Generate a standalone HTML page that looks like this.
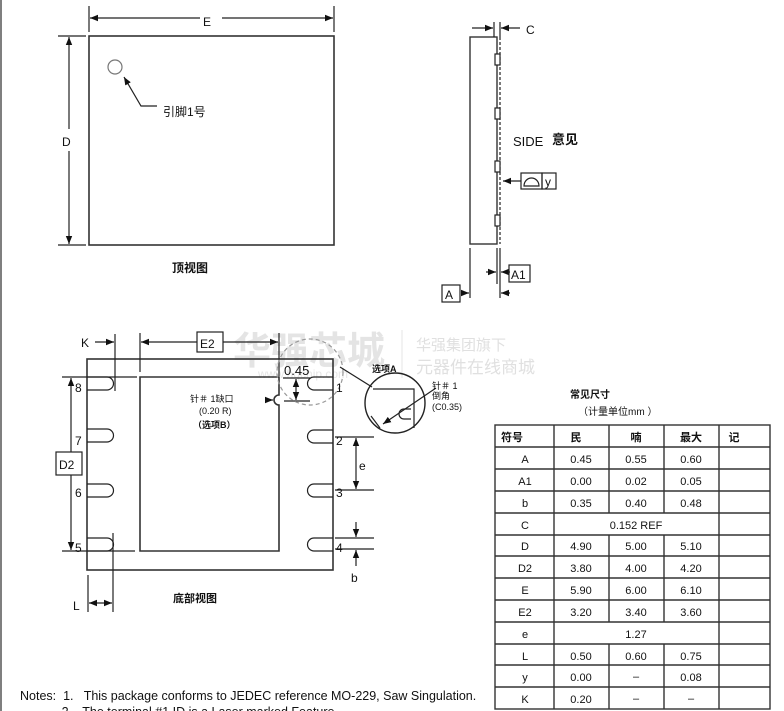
<!DOCTYPE html>
<html><head><meta charset="utf-8"><style>
html,body{margin:0;padding:0;background:#fff;width:784px;height:711px;overflow:hidden}
svg{display:block}
text{font-family:"Liberation Sans","Noto Sans CJK SC",sans-serif;fill:#111}
</style></head><body>
<svg width="784" height="711" viewBox="0 0 784 711" xmlns="http://www.w3.org/2000/svg">
<defs>
<marker id="ar" viewBox="0 0 10 10" refX="10" refY="5" markerWidth="8" markerHeight="8" orient="auto-start-reverse" markerUnits="userSpaceOnUse"><path d="M0,1 L10,5 L0,9 z" fill="#111"/></marker>
</defs>
<line x1="1" y1="0" x2="1" y2="711" stroke="#555" stroke-width="1.5"/>
<!-- watermark -->
<g>
<text x="233" y="364" font-size="38" font-weight="bold" style="fill:#e4e4e4">华强芯城</text>
<text x="258" y="378" font-size="12" style="fill:#e6e6e6">www.hqchip.com</text>
<text x="416" y="350" font-size="15" style="fill:#e0e0e0">华强集团旗下</text>
<text x="416" y="373" font-size="17" style="fill:#e0e0e0">元器件在线商城</text>
</g>
<line x1="402" y1="330" x2="402" y2="378" stroke="#e5e5e5"/>
<g stroke="#222" stroke-width="1.2" fill="none">
<!-- top view -->
<rect x="89" y="36" width="245" height="209" stroke="#333" stroke-width="1.6"/>
<line x1="89" y1="6" x2="89" y2="32"/><line x1="334" y1="6" x2="334" y2="32"/>
<line x1="90" y1="18" x2="200" y2="18" marker-start="url(#ar)"/>
<line x1="222" y1="18" x2="333" y2="18" marker-end="url(#ar)"/>
<line x1="58" y1="36" x2="86" y2="36"/><line x1="58" y1="245" x2="86" y2="245"/>
<line x1="69" y1="37" x2="69" y2="129" marker-start="url(#ar)"/>
<line x1="69" y1="151" x2="69" y2="244" marker-end="url(#ar)"/>
<circle cx="115" cy="67" r="7" stroke="#777"/>
<polyline points="157,106 141,106 124,77" marker-end="url(#ar)"/>
<!-- side view -->
<rect x="470" y="37" width="27" height="207" stroke="#333" stroke-width="1.4"/>
<line x1="500" y1="37" x2="500" y2="244" stroke-dasharray="3,2"/>
<rect x="495" y="54" width="5" height="11" fill="#fff"/>
<rect x="495" y="108" width="5" height="11" fill="#fff"/>
<rect x="495" y="161" width="5" height="11" fill="#fff"/>
<rect x="495" y="215" width="5" height="11" fill="#fff"/>
<line x1="494" y1="22" x2="494" y2="37"/><line x1="500" y1="22" x2="500" y2="37"/>
<line x1="472" y1="28" x2="493" y2="28" marker-end="url(#ar)"/>
<line x1="520" y1="28" x2="501" y2="28" marker-end="url(#ar)"/>
<line x1="521" y1="181" x2="503" y2="181" marker-end="url(#ar)"/>
<rect x="521" y="173" width="21" height="16"/><rect x="542" y="173" width="14" height="16"/>
<path d="M524,186 H539 A7.5,8 0 0 0 524,186 z"/>
<line x1="470" y1="248" x2="470" y2="298"/>
<line x1="497" y1="248" x2="497" y2="284"/><line x1="500" y1="248" x2="500" y2="298"/>
<line x1="486" y1="272" x2="496" y2="272" marker-end="url(#ar)"/>
<line x1="510" y1="272" x2="501" y2="272" marker-end="url(#ar)"/>
<rect x="509" y="265" width="21" height="17"/>
<rect x="442" y="285" width="18" height="17"/>
<line x1="461" y1="293" x2="469" y2="293" marker-end="url(#ar)"/>
<line x1="510" y1="293" x2="501" y2="293" marker-end="url(#ar)"/>
<!-- bottom view -->
<rect x="87" y="359" width="246" height="211" stroke="#333" stroke-width="1.6"/>
<path d="M140,377 H279 V395 A5,5 0 0 0 279,405 V551 H140 z" stroke="#333" stroke-width="1.6"/>
<path d="M87,377 H107 A6,6 0 0 1 107,390 H87"/>
<path d="M87,429 H107 A6,6 0 0 1 107,442 H87"/>
<path d="M87,484 H107 A6,6 0 0 1 107,497 H87"/>
<path d="M87,538 H107 A6,6 0 0 1 107,551 H87"/>
<path d="M333,377 H314 A6,6 0 0 0 314,390 H333"/>
<path d="M333,430 H314 A6,6 0 0 0 314,443 H333"/>
<path d="M333,484 H314 A6,6 0 0 0 314,497 H333"/>
<path d="M333,538 H314 A6,6 0 0 0 314,551 H333"/>
<line x1="62" y1="377" x2="137" y2="377"/><line x1="62" y1="551" x2="135" y2="551"/>
<line x1="71" y1="378" x2="71" y2="452" marker-start="url(#ar)"/>
<line x1="71" y1="475" x2="71" y2="550" marker-end="url(#ar)"/>
<rect x="56" y="452" width="26" height="23"/>
<line x1="115" y1="334" x2="115" y2="391"/>
<line x1="95" y1="342" x2="114" y2="342" marker-end="url(#ar)"/>
<line x1="140" y1="333" x2="140" y2="372"/><line x1="279" y1="333" x2="279" y2="376"/>
<line x1="141" y1="342" x2="197" y2="342" marker-start="url(#ar)"/>
<line x1="223" y1="342" x2="278" y2="342" marker-end="url(#ar)"/>
<rect x="197" y="332" width="26" height="20"/>
<line x1="88" y1="575" x2="88" y2="612"/><line x1="113" y1="533" x2="113" y2="612"/>
<line x1="89" y1="603" x2="112" y2="603" marker-start="url(#ar)" marker-end="url(#ar)"/>
<line x1="283" y1="378" x2="310" y2="378"/><line x1="284" y1="401" x2="310" y2="401"/>
<line x1="296" y1="379" x2="296" y2="400" marker-start="url(#ar)" marker-end="url(#ar)"/>
<line x1="265" y1="400" x2="273" y2="400" marker-end="url(#ar)"/>
<circle cx="310" cy="372" r="33" stroke="#999" stroke-dasharray="4,3"/>
<line x1="335" y1="437" x2="374" y2="437"/><line x1="335" y1="490" x2="374" y2="490"/>
<line x1="356" y1="438" x2="356" y2="489" marker-start="url(#ar)" marker-end="url(#ar)"/>
<line x1="335" y1="538" x2="374" y2="538"/><line x1="335" y1="549" x2="374" y2="549"/>
<line x1="356" y1="522" x2="356" y2="537" marker-end="url(#ar)"/>
<line x1="356" y1="566" x2="356" y2="550" marker-end="url(#ar)"/>
<line x1="340" y1="367" x2="372" y2="387"/>
<!-- detail circle -->
<circle cx="395" cy="403" r="30" stroke-width="1.4"/>
<path d="M373,389 H414 V428"/>
<path d="M371,416 L380,428"/>
<path d="M411,409 H404 A5,5 0 0 0 404,419 H411"/>
<line x1="436" y1="388" x2="383" y2="424" marker-end="url(#ar)"/>
</g>
<g font-size="12">
<text x="203" y="26">E</text>
<text x="62" y="146">D</text>
<text x="163" y="116" font-size="12">引脚1号</text>
<text x="172" y="272" font-size="12" font-weight="bold">顶视图</text>
<text x="526" y="34">C</text>
<text x="513" y="146" font-size="13">SIDE</text>
<text x="552" y="144" font-size="13" font-weight="bold">意见</text>
<text x="545" y="186">y</text>
<text x="511" y="279">A1</text>
<text x="445" y="299">A</text>
<text x="81" y="347">K</text>
<text x="200" y="348">E2</text>
<text x="59" y="469">D2</text>
<text x="73" y="610">L</text>
<text x="173" y="602" font-size="11" font-weight="bold">底部视图</text>
<text x="284" y="375" font-size="13">0.45</text>
<text x="75" y="392">8</text><text x="75" y="445">7</text><text x="75" y="497">6</text><text x="75" y="552">5</text>
<text x="336" y="392">1</text><text x="336" y="445">2</text><text x="336" y="497">3</text><text x="336" y="552">4</text>
<text x="359" y="470">e</text>
<text x="351" y="582">b</text>
<text x="190" y="402" font-size="9">针＃ 1缺口</text>
<text x="199" y="414" font-size="9">(0.20 R)</text>
<text x="193" y="428" font-size="9" font-weight="bold">（选项B）</text>
<text x="372" y="372" font-size="9" font-weight="bold">选项A</text>
<text x="432" y="389" font-size="9">针＃ 1</text>
<text x="432" y="399" font-size="9">倒角</text>
<text x="432" y="410" font-size="9">(C0.35)</text>
<text x="570" y="398" font-size="10" font-weight="bold">常见尺寸</text>
<text x="578" y="415" font-size="10">（计量单位mm ）</text>
<text x="20" y="700" font-size="12.5">Notes:&#160; 1.&#160;&#160; This package conforms to JEDEC reference MO-229, Saw Singulation.</text>
<text x="20" y="716" font-size="12.5">&#160;&#160;&#160;&#160;&#160;&#160;&#160;&#160;&#160;&#160;&#160; 2.&#160;&#160; The terminal #1 ID is a Laser marked Feature.</text>
</g>
<!-- table -->
<g stroke="#333" stroke-width="1.4" fill="none">
<rect x="495" y="425" width="275" height="284"/>
<line x1="554" y1="425" x2="554" y2="709"/>
<line x1="609" y1="425" x2="609" y2="513"/><line x1="609" y1="535" x2="609" y2="622"/><line x1="609" y1="644" x2="609" y2="709"/>
<line x1="664" y1="425" x2="664" y2="513"/><line x1="664" y1="535" x2="664" y2="622"/><line x1="664" y1="644" x2="664" y2="709"/>
<line x1="719" y1="425" x2="719" y2="709"/>
<line x1="495" y1="447" x2="770" y2="447"/><line x1="495" y1="469" x2="770" y2="469"/>
<line x1="495" y1="491" x2="770" y2="491"/><line x1="495" y1="513" x2="770" y2="513"/>
<line x1="495" y1="535" x2="770" y2="535"/><line x1="495" y1="556" x2="770" y2="556"/>
<line x1="495" y1="578" x2="770" y2="578"/><line x1="495" y1="600" x2="770" y2="600"/>
<line x1="495" y1="622" x2="770" y2="622"/><line x1="495" y1="644" x2="770" y2="644"/>
<line x1="495" y1="665" x2="770" y2="665"/><line x1="495" y1="687" x2="770" y2="687"/>
</g>
<g font-size="11" text-anchor="middle">
<text x="512" y="441" font-weight="bold">符号</text><text x="576" y="441" font-weight="bold">民</text><text x="636" y="441" font-weight="bold">喃</text><text x="691" y="441" font-weight="bold">最大</text><text x="734" y="441" font-weight="bold">记</text>
<text x="525" y="463">A</text><text x="581" y="463">0.45</text><text x="636" y="463">0.55</text><text x="691" y="463">0.60</text>
<text x="525" y="485">A1</text><text x="581" y="485">0.00</text><text x="636" y="485">0.02</text><text x="691" y="485">0.05</text>
<text x="525" y="507">b</text><text x="581" y="507">0.35</text><text x="636" y="507">0.40</text><text x="691" y="507">0.48</text>
<text x="525" y="529">C</text><text x="636" y="529">0.152 REF</text>
<text x="525" y="550">D</text><text x="581" y="550">4.90</text><text x="636" y="550">5.00</text><text x="691" y="550">5.10</text>
<text x="525" y="572">D2</text><text x="581" y="572">3.80</text><text x="636" y="572">4.00</text><text x="691" y="572">4.20</text>
<text x="525" y="594">E</text><text x="581" y="594">5.90</text><text x="636" y="594">6.00</text><text x="691" y="594">6.10</text>
<text x="525" y="616">E2</text><text x="581" y="616">3.20</text><text x="636" y="616">3.40</text><text x="691" y="616">3.60</text>
<text x="525" y="638">e</text><text x="636" y="638">1.27</text>
<text x="525" y="660">L</text><text x="581" y="660">0.50</text><text x="636" y="660">0.60</text><text x="691" y="660">0.75</text>
<text x="525" y="681">y</text><text x="581" y="681">0.00</text><text x="636" y="680">–</text><text x="691" y="681">0.08</text>
<text x="525" y="703">K</text><text x="581" y="703">0.20</text><text x="636" y="702">–</text><text x="691" y="702">–</text>
</g>
</svg>
</body></html>
